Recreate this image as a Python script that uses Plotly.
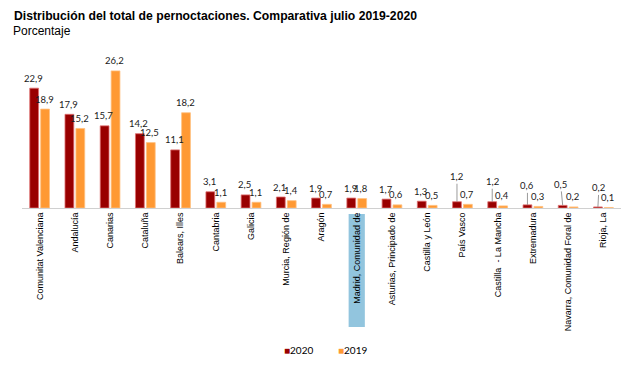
import plotly.graph_objects as go

categories = ["Comunitat Valenciana", "Andalucía", "Canarias", "Cataluña", "Balears, Illes",
              "Cantabria", "Galicia", "Murcia, Región de", "Aragón", "Madrid, Comunidad de",
              "Asturias, Principado de", "Castilla y León", "País Vasco", "Castilla  - La Mancha",
              "Extremadura", "Navarra, Comunidad Foral de", "Rioja, La"]
v2020 = [22.9, 17.9, 15.7, 14.2, 11.1, 3.1, 2.5, 2.1, 1.9, 1.9, 1.7, 1.3, 1.2, 1.2, 0.6, 0.5, 0.2]
v2019 = [18.9, 15.2, 26.2, 12.5, 18.2, 1.1, 1.1, 1.4, 0.7, 1.8, 0.6, 0.5, 0.7, 0.4, 0.3, 0.2, 0.1]
series_names = ["2020", "2019"]

RED = "#990000"
ORANGE = "#FF9933"
idx = list(range(len(categories)))

# styling: leader-line labels (index -> (ax, ay) pixel offsets)
leaders_2020 = {12: (0, -25), 13: (0, -20), 14: (0, -19), 15: (-2, -21), 16: (1, -19)}

# page body has an 8px margin -> figure drawn at (8, 8) in the window
OFF = 8
W, H = 629 - OFF, 372 - OFF
L, R, T, B = 22 - OFF, 8, 51 - OFF, 164
PH = H - T - B
PW = W - L - R

def py(y_screen):  # screen px -> paper y
    return (H - B - (y_screen - OFF)) / PH

def px(x_screen):  # screen px -> paper x
    return (x_screen - OFF - L) / PW

fig = go.Figure()
fig.add_trace(go.Bar(x=idx, y=v2020, name=series_names[0], width=0.25, offset=-0.28,
                     marker=dict(color=RED, line=dict(color="#E07070", width=0.8))))
fig.add_trace(go.Bar(x=idx, y=v2019, name=series_names[1], width=0.25, offset=0.03,
                     marker=dict(color=ORANGE, line=dict(color="#FFC080", width=0.8))))

def fmt(v):
    return f"{v:.1f}".replace(".", ",")

annos = []
lab_font = dict(family="Lato, Liberation Sans, sans-serif", size=9.5, color="#1a1a1a")
for i in idx:
    if i in leaders_2020:
        ax, ay = leaders_2020[i]
        annos.append(dict(x=i - 0.155, y=v2020[i], xref="x", yref="y", text=fmt(v2020[i]),
                          showarrow=True, arrowhead=0, arrowwidth=0.8, arrowcolor="#808080",
                          ax=ax, ay=ay, font=lab_font, standoff=0))
    else:
        annos.append(dict(x=i - 0.155, y=v2020[i], xref="x", yref="y", text=fmt(v2020[i]),
                          showarrow=False, yanchor="middle", yshift=10, xshift=-1, font=lab_font))
    annos.append(dict(x=i + 0.155, y=v2019[i], xref="x", yref="y", text=fmt(v2019[i]),
                      showarrow=False, yanchor="middle", yshift=10, xshift=-1, font=lab_font))

# subtitle
annos.append(dict(x=px(14), y=py(31), xref="paper", yref="paper", text="Porcentaje",
                  showarrow=False, xanchor="left", yanchor="middle", xshift=-3,
                  font=dict(family="Liberation Sans, Arial, sans-serif", size=12, color="#000")))

# compact legend
leg_font = dict(family="Lato, Liberation Sans, sans-serif", size=10, color="#000")
for name, col, xs in [(series_names[0], RED, 282), (series_names[1], ORANGE, 336)]:
    annos.append(dict(x=px(xs), y=py(350), xref="paper", yref="paper",
                      text=f"<span style='color:{col}'>■</span>{name}",
                      showarrow=False, xanchor="left", yanchor="middle", font=leg_font))

fig.update_layout(
    width=W, height=H,
    margin=dict(l=L, r=R, t=T, b=B),
    paper_bgcolor="white", plot_bgcolor="white",
    title=dict(text="<b>Distribución del total de pernoctaciones. Comparativa julio 2019-2020</b>",
               x=(14 - OFF) / W, xref="container", xanchor="left", y=1 - (16 - OFF) / H, yanchor="middle",
               pad=dict(l=0, r=0, t=0, b=0),
               font=dict(family="Liberation Sans, Arial, sans-serif", size=12.2, color="#000")),
    xaxis=dict(range=[-0.5, 16.5], tickmode="array", tickvals=idx, ticktext=categories,
               tickangle=-90, showgrid=False, zeroline=False, showline=True, automargin=False,
               linecolor="#D0D0D0", linewidth=1, ticks="",
               tickfont=dict(family="Liberation Sans, Arial, sans-serif", size=9, color="#000")),
    yaxis=dict(range=[0, 30], visible=False, showgrid=False, zeroline=False, automargin=False),
    showlegend=False,
    annotations=annos,
    shapes=[dict(type="rect", xref="x", yref="paper", x0=9 - 0.23, x1=9 + 0.23,
                 y0=py(327), y1=py(214),
                 fillcolor="#92C5DE", line=dict(width=0), layer="below")],
)

fig.write_html("out.html")
